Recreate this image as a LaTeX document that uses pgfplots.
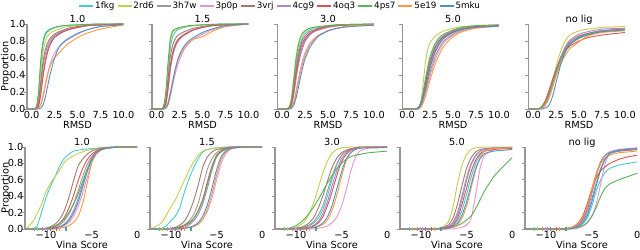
\documentclass[border=0pt]{standalone}
\usepackage{fontspec}
\setmainfont{DejaVu Sans}
\usepackage{pgfplots}
\usepackage{pgfplotstable}
\pgfplotsset{compat=1.18}

\definecolor{cfkg}{RGB}{69,203,217}
\definecolor{crd}{RGB}{201,202,78}
\definecolor{chw}{RGB}{153,153,153}
\definecolor{cpp}{RGB}{233,146,206}
\definecolor{cvrj}{RGB}{163,120,111}
\definecolor{ccg}{RGB}{169,133,202}
\definecolor{coq}{RGB}{222,82,83}
\definecolor{cps}{RGB}{86,179,86}
\definecolor{cei}{RGB}{255,153,62}
\definecolor{cmku}{RGB}{76,146,195}
\definecolor{spine}{RGB}{150,150,150}

\newcommand\fs{\fontsize{9.8}{12}\selectfont}
\newcommand\fl{\fontsize{8.8}{10}\selectfont}

% ---------- RMSD ECDFs (rows = series, transposed below) ----------
\pgfplotstableread{
name c0 c1 c2 c3 c4 c5 c6 c7 c8 c9 c10 c11 c12 c13 c14 c15 c16 c17
x -0.5 0 0.5 0.75 1 1.25 1.5 1.75 2 2.25 2.5 3 3.5 4 5 6 7.5 10
fkg 0 0 0.01 0.15 0.5 0.76 0.87 0.91 0.93 0.945 0.955 0.97 0.98 0.985 0.99 0.995 1 1
rd 0 0 0.01 0.12 0.42 0.68 0.8 0.86 0.89 0.91 0.92 0.94 0.96 0.97 0.98 0.99 1 1
hw 0 0 0.01 0.06 0.26 0.5 0.65 0.74 0.8 0.84 0.87 0.9 0.92 0.94 0.96 0.98 0.99 1
pp 0 0 0 0.01 0.06 0.16 0.3 0.42 0.52 0.6 0.66 0.73 0.78 0.82 0.88 0.93 0.97 1
vrj 0 0 0.01 0.08 0.32 0.56 0.7 0.78 0.83 0.86 0.88 0.91 0.93 0.95 0.97 0.98 0.99 1
cg 0 0 0 0.04 0.2 0.42 0.58 0.7 0.77 0.82 0.85 0.89 0.92 0.94 0.96 0.98 0.99 1
oq 0 0 0 0.03 0.17 0.38 0.55 0.67 0.75 0.8 0.84 0.88 0.91 0.93 0.96 0.98 0.99 1
ps 0 0 0.02 0.2 0.58 0.8 0.89 0.92 0.94 0.95 0.96 0.975 0.98 0.985 0.99 0.995 1 1
ei 0 0 0 0.01 0.05 0.14 0.27 0.4 0.5 0.56 0.6 0.66 0.72 0.77 0.84 0.89 0.94 0.99
mku 0 0 0 0 0.01 0.05 0.14 0.27 0.4 0.5 0.6 0.73 0.79 0.83 0.89 0.93 0.97 0.99
}\rawTA
\pgfplotstableread{
name c0 c1 c2 c3 c4 c5 c6 c7 c8 c9 c10 c11 c12 c13 c14 c15 c16 c17
x -0.5 0 0.5 0.75 1 1.25 1.5 1.75 2 2.25 2.5 3 3.5 4 5 6 7.5 10
fkg 0 0 0 0.02 0.12 0.42 0.72 0.85 0.9 0.93 0.94 0.96 0.97 0.98 0.99 0.995 1 1
rd 0 0 0 0.02 0.15 0.5 0.8 0.9 0.93 0.94 0.95 0.965 0.975 0.98 0.99 0.995 1 1
hw 0 0 0 0.01 0.07 0.28 0.52 0.67 0.76 0.81 0.84 0.88 0.91 0.93 0.96 0.98 0.99 1
pp 0 0 0 0 0.01 0.05 0.15 0.28 0.4 0.5 0.58 0.7 0.77 0.82 0.88 0.93 0.97 1
vrj 0 0 0 0.01 0.1 0.35 0.62 0.75 0.82 0.86 0.88 0.91 0.93 0.95 0.97 0.985 0.995 1
cg 0 0 0 0 0.05 0.22 0.46 0.62 0.72 0.78 0.82 0.87 0.9 0.93 0.96 0.98 0.99 1
oq 0 0 0 0.01 0.06 0.25 0.5 0.65 0.74 0.79 0.83 0.87 0.9 0.93 0.96 0.98 0.99 1
ps 0 0 0 0.03 0.2 0.55 0.83 0.92 0.94 0.95 0.96 0.97 0.98 0.985 0.99 0.995 1 1
ei 0 0 0 0 0.02 0.08 0.2 0.33 0.45 0.55 0.62 0.72 0.78 0.82 0.85 0.91 0.97 1
mku 0 0 0 0 0.01 0.06 0.18 0.32 0.45 0.56 0.64 0.74 0.8 0.84 0.9 0.94 0.98 1
}\rawTB
\pgfplotstableread{
name c0 c1 c2 c3 c4 c5 c6 c7 c8 c9 c10 c11 c12 c13 c14 c15 c16 c17
x -0.5 0 0.5 0.75 1 1.25 1.5 1.75 2 2.25 2.5 3 3.5 4 5 6 7.5 10
fkg 0 0 0 0.01 0.08 0.27 0.5 0.67 0.78 0.85 0.89 0.93 0.95 0.96 0.98 0.99 0.995 1
rd 0 0 0 0.02 0.12 0.35 0.6 0.76 0.85 0.9 0.92 0.95 0.96 0.97 0.98 0.99 0.995 1
hw 0 0 0 0 0.04 0.17 0.36 0.53 0.66 0.75 0.81 0.88 0.91 0.94 0.97 0.98 0.99 0.995
pp 0 0 0 0 0.02 0.08 0.2 0.34 0.47 0.58 0.66 0.77 0.83 0.87 0.92 0.95 0.98 0.99
vrj 0 0 0 0.01 0.06 0.22 0.44 0.62 0.74 0.82 0.86 0.91 0.93 0.95 0.97 0.985 0.99 0.995
cg 0 0 0 0 0.04 0.16 0.34 0.5 0.63 0.72 0.79 0.87 0.91 0.93 0.96 0.98 0.99 0.995
oq 0 0 0 0.01 0.05 0.2 0.4 0.57 0.7 0.78 0.83 0.89 0.92 0.94 0.97 0.98 0.99 0.995
ps 0 0 0 0.02 0.1 0.32 0.57 0.74 0.84 0.89 0.92 0.95 0.96 0.97 0.98 0.99 0.995 1
ei 0 0 0 0 0.01 0.06 0.17 0.3 0.43 0.54 0.63 0.75 0.82 0.87 0.92 0.95 0.98 0.99
mku 0 0 0 0 0.01 0.04 0.12 0.24 0.37 0.49 0.59 0.72 0.8 0.86 0.92 0.95 0.97 0.985
}\rawTC
\pgfplotstableread{
name c0 c1 c2 c3 c4 c5 c6 c7 c8 c9 c10 c11 c12 c13 c14 c15 c16 c17
x -0.5 0 0.5 0.75 1 1.25 1.5 1.75 2 2.25 2.5 3 3.5 4 5 6 7.5 10
fkg 0 0 0 0 0 0.02 0.07 0.18 0.32 0.46 0.58 0.73 0.82 0.87 0.92 0.95 0.97 0.985
rd 0 0 0 0 0 0.01 0.08 0.3 0.55 0.7 0.78 0.85 0.89 0.92 0.95 0.97 0.98 0.99
hw 0 0 0 0 0 0.01 0.04 0.11 0.21 0.32 0.43 0.6 0.72 0.8 0.88 0.93 0.96 0.975
pp 0 0 0 0 0 0 0.03 0.09 0.18 0.28 0.39 0.56 0.69 0.78 0.87 0.92 0.96 0.98
vrj 0 0 0 0 0 0.01 0.05 0.14 0.26 0.38 0.5 0.67 0.77 0.84 0.9 0.94 0.97 0.98
cg 0 0 0 0 0 0.01 0.06 0.16 0.29 0.42 0.53 0.7 0.8 0.86 0.92 0.95 0.975 0.985
oq 0 0 0 0 0 0.02 0.07 0.17 0.3 0.43 0.55 0.71 0.8 0.85 0.91 0.94 0.97 0.98
ps 0 0 0 0 0 0.02 0.08 0.2 0.36 0.5 0.62 0.76 0.84 0.88 0.93 0.96 0.98 0.99
ei 0 0 0 0 0 0 0.02 0.07 0.15 0.24 0.34 0.51 0.64 0.74 0.85 0.91 0.95 0.975
mku 0 0 0 0 0 0.01 0.05 0.13 0.24 0.36 0.48 0.65 0.76 0.83 0.9 0.94 0.96 0.975
}\rawTD
\pgfplotstableread{
name c0 c1 c2 c3 c4 c5 c6 c7 c8 c9 c10 c11 c12 c13 c14 c15 c16 c17
x -0.5 0 0.5 0.75 1 1.25 1.5 1.75 2 2.25 2.5 3 3.5 4 5 6 7.5 10
fkg 0 0 0 0.01 0.02 0.05 0.1 0.17 0.26 0.36 0.45 0.6 0.7 0.77 0.84 0.88 0.91 0.93
rd 0 0 0 0.01 0.02 0.05 0.1 0.17 0.27 0.38 0.5 0.68 0.8 0.87 0.92 0.94 0.96 0.97
hw 0 0 0 0 0.01 0.04 0.08 0.15 0.24 0.34 0.43 0.58 0.69 0.77 0.85 0.89 0.92 0.94
pp 0 0 0 0 0.01 0.03 0.07 0.13 0.21 0.3 0.39 0.55 0.67 0.76 0.84 0.88 0.92 0.94
vrj 0 0 0 0.01 0.03 0.06 0.12 0.2 0.28 0.37 0.45 0.6 0.71 0.79 0.86 0.89 0.92 0.94
cg 0 0 0 0.01 0.02 0.05 0.1 0.17 0.26 0.35 0.45 0.61 0.73 0.81 0.88 0.91 0.94 0.95
oq 0 0 0 0.01 0.04 0.08 0.15 0.23 0.31 0.39 0.46 0.59 0.68 0.74 0.8 0.84 0.87 0.9
ps 0 0 0 0.01 0.03 0.06 0.11 0.18 0.26 0.35 0.43 0.58 0.69 0.76 0.83 0.87 0.91 0.93
ei 0 0 0 0 0.01 0.04 0.08 0.14 0.22 0.3 0.39 0.53 0.63 0.71 0.79 0.86 0.9 0.92
mku 0 0 0 0 0 0.01 0.02 0.05 0.11 0.2 0.31 0.52 0.67 0.76 0.84 0.88 0.91 0.93
}\rawTE

% ---------- Vina score ECDFs ----------
\pgfplotstableread{
name c0 c1 c2 c3 c4 c5 c6 c7 c8 c9 c10 c11 c12 c13 c14 c15 c16 c17 c18 c19 c20 c21 c22
x -12.3 -12 -11.5 -11 -10.5 -10 -9.5 -9 -8.5 -8 -7.5 -7 -6.5 -6 -5.5 -5 -4.5 -4 -3.5 -3 -2 -1 0
fkg 0 0 0 0.03 0.2 0.38 0.52 0.64 0.77 0.86 0.91 0.95 0.96 0.97 0.975 0.98 0.985 0.99 0.995 1 1 1 1
rd 0 0.02 0.08 0.18 0.3 0.45 0.56 0.64 0.72 0.81 0.86 0.89 0.92 0.94 0.96 0.97 0.98 0.99 0.99 0.995 1 1 1
hw 0 0 0 0 0 0 0.01 0.02 0.05 0.1 0.18 0.3 0.46 0.63 0.78 0.88 0.94 0.97 0.985 0.99 1 1 1
pp 0 0 0 0 0 0 0 0.01 0.02 0.04 0.08 0.15 0.27 0.43 0.62 0.8 0.91 0.96 0.98 0.99 1 1 1
vrj 0 0 0 0 0 0.01 0.03 0.06 0.12 0.22 0.38 0.58 0.76 0.85 0.91 0.95 0.97 0.985 0.99 0.995 1 1 1
cg 0 0 0 0 0 0 0 0.01 0.03 0.06 0.12 0.22 0.36 0.54 0.72 0.86 0.94 0.97 0.985 0.99 1 1 1
oq 0 0 0 0 0 0 0.01 0.03 0.07 0.14 0.25 0.4 0.58 0.73 0.84 0.91 0.95 0.975 0.99 0.995 1 1 1
ps 0 0 0 0 0 0.01 0.02 0.04 0.07 0.12 0.2 0.3 0.42 0.57 0.72 0.84 0.92 0.96 0.98 0.99 1 1 1
ei 0 0 0 0 0 0 0 0 0.01 0.02 0.04 0.08 0.15 0.3 0.55 0.8 0.92 0.97 0.985 0.99 1 1 1
mku 0 0 0 0 0 0 0 0.01 0.02 0.05 0.1 0.19 0.32 0.5 0.69 0.84 0.93 0.97 0.985 0.99 1 1 1
}\rawBA
\pgfplotstableread{
name c0 c1 c2 c3 c4 c5 c6 c7 c8 c9 c10 c11 c12 c13 c14 c15 c16 c17 c18 c19 c20 c21 c22
x -12.3 -12 -11.5 -11 -10.5 -10 -9.5 -9 -8.5 -8 -7.5 -7 -6.5 -6 -5.5 -5 -4.5 -4 -3.5 -3 -2 -1 0
fkg 0 0 0 0.01 0.04 0.1 0.16 0.27 0.46 0.62 0.75 0.86 0.94 0.97 0.98 0.99 0.995 1 1 1 1 1 1
rd 0 0.01 0.04 0.08 0.17 0.27 0.36 0.48 0.6 0.72 0.82 0.9 0.95 0.97 0.98 0.99 0.99 0.995 1 1 1 1 1
hw 0 0 0 0 0 0 0.01 0.02 0.05 0.1 0.18 0.32 0.53 0.73 0.86 0.93 0.97 0.985 0.99 1 1 1 1
pp 0 0 0 0 0 0 0 0 0.01 0.02 0.03 0.06 0.12 0.22 0.38 0.6 0.8 0.92 0.97 0.99 1 1 1
vrj 0 0 0 0 0 0.01 0.02 0.05 0.1 0.2 0.35 0.54 0.76 0.88 0.94 0.97 0.98 0.99 1 1 1 1 1
cg 0 0 0 0 0 0 0 0.01 0.02 0.05 0.1 0.18 0.31 0.5 0.72 0.88 0.95 0.98 0.99 1 1 1 1
oq 0 0 0 0 0 0 0.01 0.02 0.04 0.07 0.13 0.23 0.37 0.58 0.77 0.9 0.95 0.975 0.99 1 1 1 1
ps 0 0 0 0 0 0 0.01 0.03 0.05 0.08 0.13 0.22 0.35 0.55 0.75 0.88 0.94 0.97 0.985 0.99 1 1 1
ei 0 0 0 0 0 0 0 0 0.01 0.02 0.03 0.06 0.12 0.25 0.43 0.66 0.85 0.94 0.98 0.99 1 1 1
mku 0 0 0 0 0 0 0 0 0.01 0.02 0.04 0.08 0.16 0.3 0.5 0.72 0.88 0.95 0.98 0.99 1 1 1
}\rawBB
\pgfplotstableread{
name c0 c1 c2 c3 c4 c5 c6 c7 c8 c9 c10 c11 c12 c13 c14 c15 c16 c17 c18 c19 c20 c21 c22
x -12.3 -12 -11.5 -11 -10.5 -10 -9.5 -9 -8.5 -8 -7.5 -7 -6.5 -6 -5.5 -5 -4.5 -4 -3.5 -3 -2 -1 0
fkg 0 0 0 0 0 0 0.01 0.02 0.04 0.08 0.14 0.25 0.42 0.62 0.79 0.9 0.95 0.975 0.99 1 1 1 1
rd 0 0 0 0 0.01 0.02 0.05 0.1 0.2 0.34 0.52 0.7 0.84 0.93 0.97 0.99 0.995 1 1 1 1 1 1
hw 0 0 0 0 0 0 0.01 0.03 0.05 0.1 0.18 0.3 0.48 0.66 0.8 0.9 0.95 0.97 0.985 0.99 1 1 1
pp 0 0 0 0 0 0 0 0 0 0 0.01 0.02 0.04 0.08 0.15 0.28 0.47 0.7 0.87 0.95 0.99 0.995 1
vrj 0 0 0 0 0 0.01 0.02 0.04 0.08 0.15 0.27 0.42 0.6 0.76 0.87 0.93 0.96 0.98 0.99 1 1 1 1
cg 0 0 0 0 0 0 0 0.01 0.02 0.05 0.1 0.2 0.35 0.54 0.72 0.86 0.93 0.97 0.985 0.99 1 1 1
oq 0 0 0 0 0 0 0 0.01 0.02 0.04 0.08 0.16 0.3 0.47 0.66 0.82 0.91 0.96 0.98 0.99 1 1 1
ps 0 0 0 0 0.02 0.04 0.08 0.13 0.2 0.28 0.37 0.47 0.57 0.66 0.74 0.8 0.85 0.88 0.9 0.91 0.93 0.94 0.95
ei 0 0 0 0 0 0 0 0 0.01 0.02 0.03 0.06 0.12 0.24 0.42 0.64 0.83 0.93 0.97 0.99 1 1 1
mku 0 0 0 0 0 0 0 0 0.01 0.02 0.04 0.08 0.16 0.3 0.5 0.7 0.85 0.93 0.97 0.985 0.99 0.99 0.995
}\rawBC
\pgfplotstableread{
name c0 c1 c2 c3 c4 c5 c6 c7 c8 c9 c10 c11 c12 c13 c14 c15 c16 c17 c18 c19 c20 c21 c22
x -12.3 -12 -11.5 -11 -10.5 -10 -9.5 -9 -8.5 -8 -7.5 -7 -6.5 -6 -5.5 -5 -4.5 -4 -3.5 -3 -2 -1 0
fkg 0 0 0 0 0 0 0 0 0 0 0.01 0.02 0.04 0.1 0.23 0.42 0.63 0.8 0.91 0.95 0.975 0.985 0.99
rd 0 0 0 0 0 0 0 0 0 0.01 0.03 0.09 0.26 0.55 0.78 0.91 0.97 0.99 0.995 1 1 1 1
hw 0 0 0 0 0 0 0 0 0 0 0.01 0.03 0.08 0.2 0.41 0.63 0.8 0.9 0.95 0.97 0.98 0.985 0.99
pp 0 0 0 0 0 0 0 0 0 0 0 0 0 0.01 0.02 0.05 0.13 0.42 0.75 0.9 0.97 0.98 0.985
vrj 0 0 0 0 0 0 0 0 0 0.01 0.02 0.05 0.13 0.3 0.53 0.74 0.87 0.94 0.97 0.98 0.99 0.99 0.99
cg 0 0 0 0 0 0 0 0 0 0 0.01 0.03 0.07 0.17 0.36 0.59 0.78 0.89 0.95 0.97 0.985 0.99 0.99
oq 0 0 0 0 0 0 0 0 0 0 0.01 0.02 0.05 0.13 0.3 0.5 0.7 0.84 0.92 0.95 0.97 0.98 0.98
ps 0 0 0 0 0 0 0 0 0 0 0 0.01 0.02 0.04 0.07 0.11 0.16 0.25 0.36 0.47 0.64 0.76 0.87
ei 0 0 0 0 0 0 0 0 0 0 0 0.01 0.02 0.05 0.13 0.28 0.5 0.72 0.88 0.95 0.98 0.985 0.99
mku 0 0 0 0 0 0 0 0 0 0 0 0.01 0.03 0.07 0.17 0.33 0.54 0.74 0.86 0.92 0.95 0.96 0.97
}\rawBD
\pgfplotstableread{
name c0 c1 c2 c3 c4 c5 c6 c7 c8 c9 c10 c11 c12 c13 c14 c15 c16 c17 c18 c19 c20 c21 c22
x -12.3 -12 -11.5 -11 -10.5 -10 -9.5 -9 -8.5 -8 -7.5 -7 -6.5 -6 -5.5 -5 -4.5 -4 -3.5 -3 -2 -1 0
fkg 0 0 0 0 0 0 0 0 0 0 0 0.01 0.03 0.06 0.13 0.27 0.46 0.6 0.69 0.74 0.78 0.8 0.82
rd 0 0 0 0 0 0 0 0 0 0 0.01 0.02 0.05 0.12 0.27 0.48 0.68 0.82 0.9 0.93 0.96 0.97 0.98
hw 0 0 0 0 0 0 0 0 0 0 0.01 0.02 0.04 0.09 0.19 0.36 0.56 0.74 0.86 0.92 0.95 0.96 0.97
pp 0 0 0 0 0 0 0 0 0 0 0 0 0.01 0.03 0.07 0.15 0.3 0.55 0.8 0.92 0.96 0.97 0.98
vrj 0 0 0 0 0 0 0 0 0 0 0.01 0.02 0.05 0.12 0.25 0.45 0.66 0.82 0.9 0.93 0.95 0.96 0.97
cg 0 0 0 0 0 0 0 0 0 0 0.01 0.02 0.04 0.1 0.22 0.42 0.64 0.81 0.9 0.94 0.97 0.98 0.99
oq 0 0 0 0 0 0 0 0 0 0 0.01 0.03 0.07 0.15 0.3 0.48 0.62 0.71 0.76 0.8 0.85 0.88 0.9
ps 0 0 0 0 0 0 0 0 0 0 0 0.01 0.02 0.04 0.08 0.15 0.26 0.4 0.5 0.55 0.6 0.64 0.68
ei 0 0 0 0 0 0 0 0 0 0 0.01 0.03 0.06 0.13 0.27 0.47 0.66 0.8 0.87 0.9 0.93 0.94 0.95
mku 0 0 0 0 0 0 0 0 0 0 0 0.01 0.03 0.07 0.16 0.32 0.52 0.72 0.85 0.92 0.96 0.97 0.98
}\rawBE

\pgfplotstabletranspose[colnames from=name]{\TA}{\rawTA}
\pgfplotstabletranspose[colnames from=name]{\TB}{\rawTB}
\pgfplotstabletranspose[colnames from=name]{\TC}{\rawTC}
\pgfplotstabletranspose[colnames from=name]{\TD}{\rawTD}
\pgfplotstabletranspose[colnames from=name]{\TE}{\rawTE}
\pgfplotstabletranspose[colnames from=name]{\BA}{\rawBA}
\pgfplotstabletranspose[colnames from=name]{\BB}{\rawBB}
\pgfplotstabletranspose[colnames from=name]{\BC}{\rawBC}
\pgfplotstabletranspose[colnames from=name]{\BD}{\rawBD}
\pgfplotstabletranspose[colnames from=name]{\BE}{\rawBE}

\pgfplotsset{
  base/.style={
    scale only axis, clip=false, anchor=south west,
    axis x line*=bottom, axis y line*=left,
    x axis line style={draw=none},
    y axis line style={-, draw=spine, line width=1.3bp},
    ymin=0, ymax=1, ytick={0,0.2,0.4,0.6,0.8,1},
    yticklabels={},
    tick align=outside, major tick length=3.5bp,
    xtick style={draw=none},
    ytick style={draw=spine, line width=0.8bp},
    tick label style={font=\fs},
    yticklabel style={inner sep=0.5bp, xshift=2.5bp},
    xticklabel style={inner sep=1bp, yshift=2.5bp},
    every axis x label/.style={at={(rel axis cs:0.5,0)}, anchor=base, yshift=-19.5bp, font=\fs},
  },
  ylab/.style={ylabel={Proportion}, yticklabels={0.0,0.2,0.4,0.6,0.8,1.0},
    every axis y label/.style={at={(rel axis cs:#1,0.5)}, rotate=90, anchor=center, font=\fs}},
  crv/.style={mark=none, line width=0.9bp, smooth, tension=0.4},
  rugst/.style={only marks, mark=|, mark size=2.4bp, mark options={line width=1bp}, forget plot},
}

\newcommand\toppanel[4]{%
\begin{axis}[base, at={(#1,141bp)}, width=101bp, height=85bp,
  xmin=-0.5, xmax=10.5, xtick={0,2.5,5,7.5,10},
  xticklabels={0.0,2.5,5.0,7.5,10.0}, xlabel={RMSD}, #4]
  \pgfplotsinvokeforeach{fkg,rd,hw,pp,vrj,cg,oq,ps,ei,mku}{%
    \addplot[crv, color=c##1] table[x=x,y=##1]{#2};}
  \node[font=\fs, anchor=base, yshift=1.5bp] at (rel axis cs:0.5,1) {#3};
\end{axis}}

\newcommand\rug{%
  \addplot[rugst, cfkg] coordinates {(-11.3,0)};
  \addplot[rugst, crd] coordinates {(-10.9,0)};
  \addplot[rugst, chw] coordinates {(-10.4,0)};
  \addplot[rugst, cpp] coordinates {(-10.0,0)};
  \addplot[rugst, ccg] coordinates {(-9.8,0)};
  \addplot[rugst, cvrj] coordinates {(-9.5,0)};
  \addplot[rugst, coq] coordinates {(-8.9,0)};
  \addplot[rugst, cei] coordinates {(-8.5,0)};
  \addplot[rugst, cmku] coordinates {(-7.9,0)};
  \addplot[rugst, cps] coordinates {(-7.7,0)};
}

\newcommand\botpanel[4]{%
\begin{axis}[base, at={(#1,21bp)}, width=114bp, height=82bp,
  xmin=-12.3, xmax=0.2, xtick={-10,-5,0},
  xticklabels={−10,−5,0}, xlabel={Vina Score}, #4]
  \pgfplotsinvokeforeach{fkg,rd,hw,pp,vrj,cg,oq,ps,ei,mku}{%
    \addplot[crv, color=c##1] table[x=x,y=##1]{#2};}
  \rug
  \node[font=\fs, anchor=base, yshift=1.5bp] at (rel axis cs:0.5,1) {#3};
\end{axis}}

\begin{document}
\begin{tikzpicture}
\useasboundingbox (0,0) rectangle (640bp,250bp);
\toppanel{27bp}{\TA}{1.0}{ylab=-0.21}
\toppanel{152bp}{\TB}{1.5}{}
\toppanel{277.5bp}{\TC}{3.0}{}
\toppanel{402.5bp}{\TD}{5.0}{}
\toppanel{528.5bp}{\TE}{no lig}{}
\botpanel{25bp}{\BA}{1.0}{ylab=-0.167}
\botpanel{150bp}{\BB}{1.5}{}
\botpanel{275bp}{\BC}{3.0}{}
\botpanel{400bp}{\BD}{5.0}{}
\botpanel{525bp}{\BE}{no lig}{}
% legend: one entry per series
\begin{axis}[at={(27bp,141bp)}, anchor=south west, scale only axis,
  width=101bp, height=85bp, hide axis, xmin=0, xmax=1, ymin=0, ymax=1,
  legend columns=10,
  legend image code/.code={\path[#1, draw=none] (0bp,-0.8bp) rectangle (14bp,0.8bp);},
  legend style={draw=none, fill=none, font=\fl, at={(0.515,1.215)}, anchor=west,
    inner sep=0pt, /tikz/every even column/.append style={column sep=1bp}}]
  \addlegendimage{fill=cfkg}\addlegendentry{1fkg}
  \addlegendimage{fill=crd}\addlegendentry{2rd6}
  \addlegendimage{fill=chw}\addlegendentry{3h7w}
  \addlegendimage{fill=cpp}\addlegendentry{3p0p}
  \addlegendimage{fill=cvrj}\addlegendentry{3vrj}
  \addlegendimage{fill=ccg}\addlegendentry{4cg9}
  \addlegendimage{fill=coq}\addlegendentry{4oq3}
  \addlegendimage{fill=cps}\addlegendentry{4ps7}
  \addlegendimage{fill=cei}\addlegendentry{5e19}
  \addlegendimage{fill=cmku}\addlegendentry{5mku}
\end{axis}
\end{tikzpicture}
\end{document}
